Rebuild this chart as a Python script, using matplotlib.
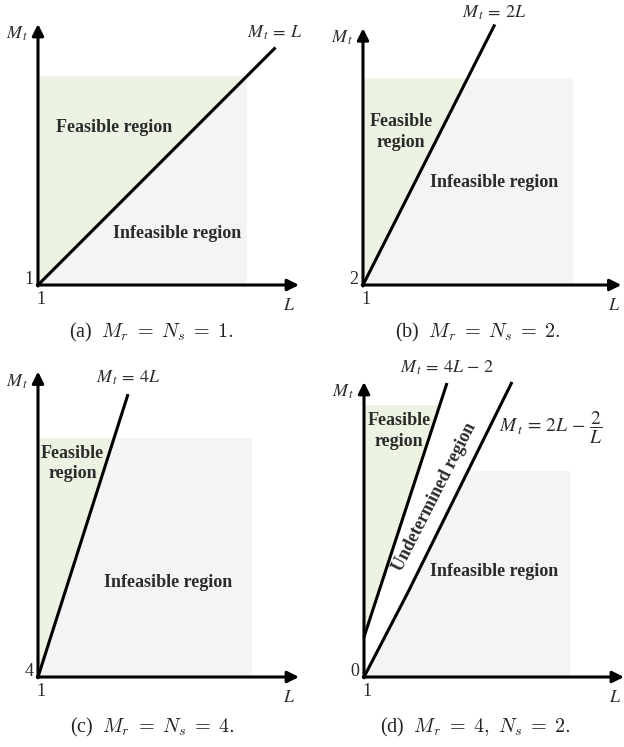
import numpy as np
import matplotlib.pyplot as plt

plt.rcParams['font.family'] = ['Liberation Serif', 'DejaVu Serif']
plt.rcParams['mathtext.fontset'] = 'stix'

GREEN = '#ecf3e3'
GRAY = '#f3f4f6'
TXT = '#2b2b2b'

# (a) Mr = Ns = 1
a_line_L = [1, 10.1]
a_line_M = [1, 10.1]
a_region = (9.0, 9.0)          # L max, Mt max of shaded box
a_axis_end = (11.0, 11.0)

# (b) Mr = Ns = 2
b_line_L = [1, 6.05]
b_line_M = [2, 12.1]
b_region = (9.05, 10.0)
b_axis_end = (10.9, 11.95)

# (c) Mr = Ns = 4
c_line_L = [1, 4.45]
c_line_M = [4, 17.8]
c_region = (9.2, 15.65)
c_axis_end = (11.0, 18.9)

# (d) Mr = 4, Ns = 2
d_upper_L = [1, 4.18]
d_upper_M = [2, 14.7]
d_lower_L = [1, 2.69, 6.67]
d_lower_M = [0, 4.25, 14.75]
d_green_top = 13.6
d_gray_region = (8.9, 10.3)
d_axis_end = (10.96, 14.75)

W, H = 624, 747
fig = plt.figure(figsize=(W / 100, H / 100), dpi=100)


def make_panel(ox, oy, sx, sy, y0):
    # axes laid out so that (1, y0) lands at pixel (ox, oy)
    left, right, top, bottom = 40, 262, 305, 40
    ax = fig.add_axes([(ox - left) / W, (H - oy - bottom) / H,
                       (left + right) / W, (top + bottom) / H])
    ax.set_xlim(1 - left / sx, 1 + right / sx)
    ax.set_ylim(y0 - bottom / sy, y0 + top / sy)
    ax.set_axis_off()
    ax.patch.set_alpha(0)
    return ax


def upto(line_L, line_M, top):
    Lc = np.interp(top, line_M, line_L)
    pts = [(l, m) for l, m in zip(line_L, line_M) if m < top]
    return pts + [(Lc, top)]


def fill_pts(ax, pts, color):
    xs, ys = zip(*pts)
    ax.fill(xs, ys, color=color, lw=0, zorder=1)


def axes_arrows(ax, y0, end, tick_left, tick_bottom='1'):
    kw = dict(arrowstyle='-|>', lw=2.2, color='black', mutation_scale=17,
              shrinkA=0, shrinkB=0)
    ax.annotate('', xy=(end[0], y0), xytext=(1 - 0.03, y0), arrowprops=kw, zorder=5)
    ax.annotate('', xy=(1, end[1]), xytext=(1, y0 - 0.04), arrowprops=kw, zorder=5)
    ax.annotate(tick_left, xy=(1, y0), xytext=(-9, 6), textcoords='offset pixels',
                ha='center', va='center', fontsize=13, color=TXT)
    ax.annotate(tick_bottom, xy=(1, y0), xytext=(3, -15), textcoords='offset pixels',
                ha='center', va='center', fontsize=13, color=TXT)
    ax.annotate('$L$', xy=(1, y0), xytext=(251, -21), textcoords='offset pixels',
                ha='center', va='center', fontsize=13, color=TXT)
    ax.annotate(r'$M_{\,t}$', xy=(1, end[1]), xytext=(-21, -10), textcoords='offset pixels',
                ha='center', va='center', fontsize=13, color=TXT)


def line(ax, L, M):
    ax.plot(L, M, color='black', lw=2.2, solid_capstyle='butt', zorder=3)


bold = dict(fontsize=13, fontweight='bold', color=TXT, ha='center', va='center',
            linespacing=1.25, zorder=4)
eq = dict(fontsize=13, color=TXT, ha='center', va='center')

# ---- (a)
ax = make_panel(38, 285, 26.1, 26.1, 1)
fill_pts(ax, upto(a_line_L, a_line_M, a_region[1]) + [(1, a_region[1])], GREEN)
fill_pts(ax, upto(a_line_L, a_line_M, a_region[1]) +
         [(a_region[0], a_region[1]), (a_region[0], 1), (1, 1)], GRAY)
line(ax, a_line_L, a_line_M)
axes_arrows(ax, 1, a_axis_end, '1')
ax.text(3.91, 7.05, 'Feasible region', **bold)
ax.text(6.33, 2.99, 'Infeasible region', **bold)
ax.text(10.05, 10.66, r'$M_{\,t} \,=\, L$', **eq)

# ---- (b)
ax = make_panel(363, 285, 26.1, 25.8, 2)
fill_pts(ax, upto(b_line_L, b_line_M, b_region[1]) + [(1, b_region[1])], GREEN)
fill_pts(ax, upto(b_line_L, b_line_M, b_region[1]) +
         [(b_region[0], b_region[1]), (b_region[0], 2), (1, 2)], GRAY)
line(ax, b_line_L, b_line_M)
axes_arrows(ax, 2, b_axis_end, '2')
ax.text(2.46, 7.93, 'Feasible\nregion', **bold)
ax.text(6.02, 5.99, 'Infeasible region', **bold)
ax.text(6.02, 12.54, r'$M_{\,t} \,=\, 2L$', **eq)

# ---- (c)
ax = make_panel(38, 677, 26.1, 20.5, 4)
fill_pts(ax, upto(c_line_L, c_line_M, c_region[1]) + [(1, c_region[1])], GREEN)
fill_pts(ax, upto(c_line_L, c_line_M, c_region[1]) +
         [(c_region[0], c_region[1]), (c_region[0], 4), (1, 4)], GRAY)
line(ax, c_line_L, c_line_M)
axes_arrows(ax, 4, c_axis_end, '4')
ax.text(2.32, 14.4, 'Feasible\nregion', **bold)
ax.text(5.98, 8.63, 'Infeasible region', **bold)
ax.text(4.45, 18.6, r'$M_{\,t} \,=\, 4L$', **eq)

# ---- (d)
ax = make_panel(364, 677, 26.1, 20.0, 0)
fill_pts(ax, upto(d_upper_L, d_upper_M, d_green_top) + [(1, d_green_top)], GREEN)
fill_pts(ax, upto(d_lower_L, d_lower_M, d_gray_region[1]) +
         [(d_gray_region[0], d_gray_region[1]), (d_gray_region[0], 0), (1, 0)], GRAY)
line(ax, d_upper_L, d_upper_M)
line(ax, d_lower_L, d_lower_M)
axes_arrows(ax, 0, d_axis_end, '0')
ax.text(2.34, 12.3, 'Feasible\nregion', **bold)
ax.text(5.98, 5.25, 'Infeasible region', **bold)
ax.text(3.72, 9.0, 'Undetermined region', rotation=63, rotation_mode='anchor', **bold)
ax.text(4.18, 15.45, r'$M_{\,t} \,=\, 4L \,-\, 2$', **eq)
ax.text(8.16, 12.45, r'$M_{\,t} \,=\, 2L \,-\, \dfrac{2}{L}$', fontsize=14,
        color=TXT, ha='center', va='center')

# captions
cap = dict(fontsize=14.5, ha='center', va='center', color='#222222', math_fontfamily='cm')
fig.text(151 / W, 1 - 332 / H, r'(a)  $M_r \;=\; N_s \;=\; 1.$', **cap)
fig.text(478 / W, 1 - 332 / H, r'(b)  $M_r \;=\; N_s \;=\; 2.$', **cap)
fig.text(152 / W, 1 - 727 / H, r'(c)  $M_r \;=\; N_s \;=\; 4.$', **cap)
fig.text(475 / W, 1 - 727 / H, r'(d)  $M_r \;=\; 4,\ N_s \;=\; 2.$', **cap)

fig.savefig('out.png', dpi=100)
